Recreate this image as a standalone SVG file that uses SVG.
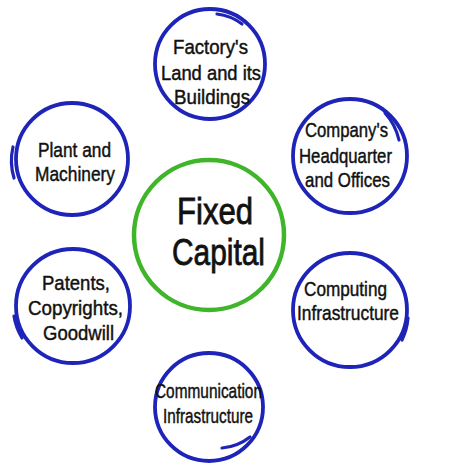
<svg xmlns="http://www.w3.org/2000/svg" width="474" height="469" viewBox="0 0 474 469">
<style>
.ring{fill:none;stroke:#1f24b8;stroke-width:3.8;stroke-linecap:round}
.tail{fill:none;stroke:#1f24b8;stroke-width:3.2;stroke-linecap:round}
.core{fill:none;stroke:#3fb52a;stroke-width:4.5}
.t{font-family:"Liberation Sans",Arial,sans-serif;font-size:20.5px;fill:#111;stroke:#111;stroke-width:0.45}
.big{font-family:"Liberation Sans",Arial,sans-serif;font-size:37px;fill:#111;stroke:#111;stroke-width:0.8}
</style>
<rect width="474" height="469" fill="#fff"/>
<g id="connectors"></g>
<g id="fixed-capital">
<circle class="core" cx="209" cy="235" r="75"/>
<text class="big" x="177" y="224" textLength="76" lengthAdjust="spacingAndGlyphs">Fixed</text>
<text class="big" x="172" y="265" textLength="93" lengthAdjust="spacingAndGlyphs">Capital</text>
</g>
<g id="factory">
<circle class="ring" cx="210" cy="64" r="55"/>
<path class="tail" d="M217 14 A51 51 0 0 1 242 24"/>
<text class="t" x="173" y="54" textLength="75" lengthAdjust="spacingAndGlyphs">Factory's</text>
<text class="t" x="161" y="80" textLength="100" lengthAdjust="spacingAndGlyphs">Land and its</text>
<text class="t" x="174" y="104" textLength="76" lengthAdjust="spacingAndGlyphs">Buildings</text>
</g>
<g id="plant">
<circle class="ring" cx="72" cy="159" r="56"/>
<path class="tail" d="M13 147 A60 60 0 0 0 14 178"/>
<text class="t" x="38" y="157" textLength="73" lengthAdjust="spacingAndGlyphs">Plant and</text>
<text class="t" x="35" y="181" textLength="80" lengthAdjust="spacingAndGlyphs">Machinery</text>
</g>
<g id="company">
<circle class="ring" cx="350" cy="156" r="57"/>
<path class="tail" d="M385 113 A60 60 0 0 1 399 140"/>
<text class="t" x="305" y="137" textLength="83" lengthAdjust="spacingAndGlyphs">Company's</text>
<text class="t" x="299" y="163" textLength="93" lengthAdjust="spacingAndGlyphs">Headquarter</text>
<text class="t" x="305" y="187" textLength="85" lengthAdjust="spacingAndGlyphs">and Offices</text>
</g>
<g id="patents">
<circle class="ring" cx="73" cy="306" r="57"/>
<path class="tail" d="M14 316 A60 60 0 0 0 22 338"/>
<text class="t" x="42" y="290" textLength="68" lengthAdjust="spacingAndGlyphs">Patents,</text>
<text class="t" x="28" y="315" textLength="95" lengthAdjust="spacingAndGlyphs">Copyrights,</text>
<text class="t" x="43" y="340" textLength="71" lengthAdjust="spacingAndGlyphs">Goodwill</text>
</g>
<g id="computing">
<circle class="ring" cx="350" cy="310" r="57"/>
<path class="tail" d="M408 318 A60 60 0 0 1 402 340"/>
<text class="t" x="304" y="296" textLength="83" lengthAdjust="spacingAndGlyphs">Computing</text>
<text class="t" x="297" y="320" textLength="102" lengthAdjust="spacingAndGlyphs">Infrastructure</text>
</g>
<g id="communication">
<circle class="ring" cx="209" cy="407" r="54"/>
<path class="tail" d="M222 448 A52 52 0 0 0 250 437"/>
<text class="t" x="155" y="398" textLength="107" lengthAdjust="spacingAndGlyphs">Communication</text>
<text class="t" x="163" y="423" textLength="90" lengthAdjust="spacingAndGlyphs">Infrastructure</text>
</g>
</svg>
